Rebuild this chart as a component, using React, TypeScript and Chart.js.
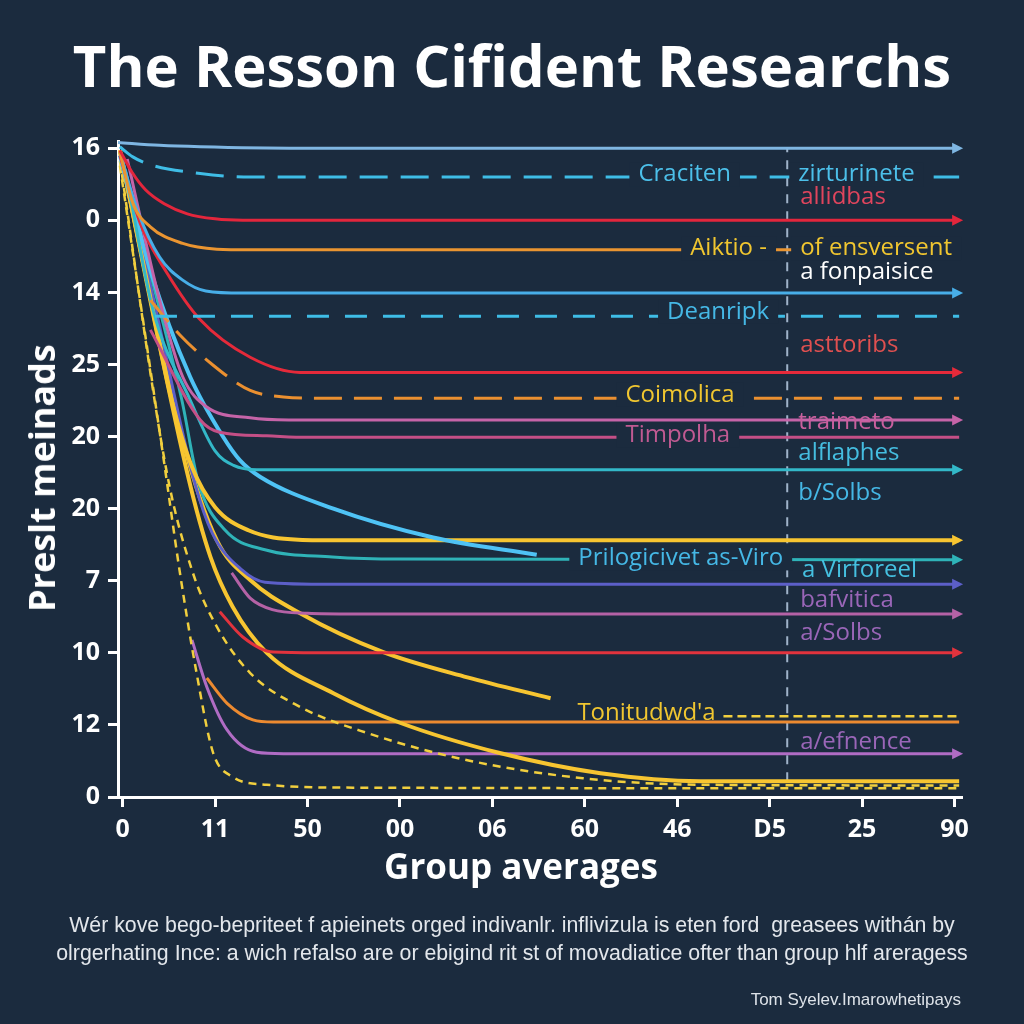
import React, { useEffect, useRef } from 'react';
import { Chart, registerables } from 'chart.js';

Chart.register(...registerables);

const BG = '#1b2b3e';
const FONT = "'Open Sans', 'Noto Sans', sans-serif";

// ---- axes ----
const xTickLabels = ['0', '11', '50', '00', '06', '60', '46', 'D5', '25', '90'];
const yTickLabels = ['0', '12', '10', '7', '20', '20', '25', '14', '0', '16']; // bottom -> top
const yTitle = 'Preslt meinads';
const xTitle = 'Group averages';
const chartTitle = 'The Resson Cifident Researchs';
const captionLines = [
  'Wér kove bego-bepriteet f apieinets orged indivanlr. inflivizula is eten ford  greasees withán by',
  'olrgerhating Ince: a wich refalso are or ebigind rit st of movadiatice ofter than group hlf areragess',
];
const footer = 'Tom Syelev.Imarowhetipays';

// ---- series values: [x, y] pairs ----
const sSkyTop = [[-0.05, 9.08], [0.4, 9.04], [0.84, 9.02], [1.92, 9.0], [9.05, 9.0]];
const sCyanDash1 = [[-0.03, 9.02], [0.11, 8.88], [0.3, 8.77], [0.84, 8.65], [1.38, 8.6], [9.05, 8.6]];
const sRed1 = [[-0.03, 8.97], [0.1, 8.67], [0.25, 8.42], [0.45, 8.23], [0.7, 8.09], [1.0, 8.02], [1.3, 8.0], [9.05, 8.0]];
const sOrange1 = [[-0.03, 8.95], [0.11, 8.24], [0.3, 7.91], [0.65, 7.68], [1.02, 7.6], [1.38, 7.59], [9.05, 7.59]];
const sBlue1 = [[-0.03, 8.95], [0.16, 8.14], [0.4, 7.49], [0.65, 7.17], [0.9, 7.02], [1.3, 6.99], [9.05, 6.99]];
const sCyanDash2 = [[0.35, 6.67], [9.05, 6.67]];
const sRed2 = [[-0.03, 8.9], [0.19, 7.96], [0.48, 7.27], [0.84, 6.62], [1.38, 6.1], [1.92, 5.89], [9.05, 5.89]];
const sOrangeDash2 = [[0.3, 6.89], [0.62, 6.41], [0.95, 6.02], [1.38, 5.64], [1.74, 5.55], [2.2, 5.53], [9.05, 5.53]];
const sPink1 = [[0.05, 8.85], [0.4, 6.89], [0.65, 5.83], [0.91, 5.41], [1.38, 5.26], [1.8, 5.23], [9.05, 5.23]];
const sPink2 = [[0.3, 6.48], [0.84, 5.23], [1.05, 5.06], [1.56, 5.01], [2.0, 4.99], [9.05, 4.99]];
const sTeal1 = [[0.03, 8.7], [0.33, 6.75], [0.73, 5.51], [1.0, 4.8], [1.2, 4.6], [1.45, 4.54], [9.05, 4.54]];
const sSkyCurve = [[-0.03, 8.9], [0.3, 7.31], [0.73, 5.83], [1.09, 4.99], [1.27, 4.67], [1.49, 4.44], [2.28, 4.0], [3.36, 3.6], [4.48, 3.36]];
const sYellow1 = [[-0.03, 8.97], [0.25, 7.24], [0.53, 5.51], [0.75, 4.58], [1.0, 4.02], [1.36, 3.7], [1.9, 3.57], [2.4, 3.56], [9.05, 3.56]];
const sTeal2 = [[0.0, 8.83], [0.3, 7.27], [0.64, 5.51], [0.82, 4.36], [1.11, 3.7], [1.54, 3.43], [2.27, 3.33], [3.0, 3.3], [9.05, 3.29]];
const sIndigo = [[0.0, 8.83], [0.35, 6.82], [0.78, 4.36], [0.97, 3.66], [1.29, 3.15], [1.54, 2.98], [2.27, 2.95], [9.05, 2.95]];
const sMauve = [[1.18, 3.11], [1.38, 2.76], [1.62, 2.6], [2.0, 2.55], [2.5, 2.54], [9.05, 2.54]];
const sRed3 = [[1.05, 2.57], [1.3, 2.22], [1.63, 2.01], [2.1, 2.0], [9.05, 2.0]];
const sYellow2 = [[-0.03, 8.97], [0.65, 4.95], [1.02, 3.56], [1.38, 3.01], [1.92, 2.55], [2.82, 2.01], [3.73, 1.66], [4.63, 1.37]];
const sYellow3 = [[-0.03, 8.97], [0.7, 4.49], [0.95, 3.33], [1.19, 2.64], [1.56, 2.0], [2.28, 1.44], [3.0, 1.03], [4.08, 0.61], [5.17, 0.33], [6.25, 0.22], [9.05, 0.22]];
const sYellowDash1 = [[-0.03, 8.83], [0.48, 4.49], [0.76, 3.11], [1.02, 2.36], [1.38, 1.72], [1.92, 1.25], [2.64, 0.89], [3.73, 0.51], [4.98, 0.26], [6.25, 0.17], [9.05, 0.16]];
const sYellowDash2 = [[-0.03, 8.76], [0.44, 4.72], [0.62, 3.11], [0.8, 1.72], [0.98, 0.61], [1.19, 0.28], [1.56, 0.17], [2.5, 0.13], [9.05, 0.12]];
const sOrange3 = [[0.91, 1.65], [1.13, 1.3], [1.41, 1.07], [1.63, 1.04], [9.05, 1.04]];
const sPurple = [[0.75, 2.18], [0.91, 1.53], [1.13, 0.93], [1.45, 0.62], [1.74, 0.6], [9.05, 0.6]];
const sYellowDash3 = [[6.5, 1.12], [9.05, 1.12]];
const refLine = [[7.19, 0.22], [7.19, 9.0]];

const seriesData = [
  sSkyTop, sCyanDash1, sRed1, sOrange1, sBlue1, sCyanDash2, sRed2, sOrangeDash2, sPink1, sPink2,
  sTeal1, sSkyCurve, sYellow1, sTeal2, sIndigo, sMauve, sRed3, sYellow2, sYellow3, sYellowDash1,
  sYellowDash2, sOrange3, sPurple, sYellowDash3,
];

// ---- series styles ----
const seriesColors = [
  '#7fb6e2', '#3fbde6', '#e3263c', '#ea9531', '#48aee8', '#3fbde6', '#e52a3a', '#eb9030', '#c564a8', '#c44f86',
  '#33b8c8', '#4fc3f5', '#f7c531', '#2fb3b8', '#5c5fc8', '#b562a6', '#e2333d', '#f7c531', '#f7c531', '#f1cf3e',
  '#f1cf3e', '#ec8a30', '#b06cc4', '#f1cf3e',
];
const seriesWidths = [3, 3, 3, 3, 3, 3, 3, 3, 3, 3, 3, 4, 4, 3, 3, 3, 3, 4, 4, 2.5, 2.5, 3, 3, 2.5];
const seriesDashes = [
  [], [28, 13], [], [], [], [22, 16], [], [28, 12], [], [],
  [], [], [], [], [], [], [], [], [], [8, 6],
  [8, 6], [], [], [9, 5],
];
const seriesArrow = [
  true, false, true, false, true, false, true, false, true, false,
  true, false, true, true, true, true, true, false, false, false,
  false, false, true, false,
];

// ---- in-plot labels ----
const labelTexts = ['Craciten', 'zirturinete', 'allidbas', 'Aiktio -', 'of ensversent', 'a fonpaisice', 'Deanripk', 'asttoribs', 'Coimolica', 'traimeto', 'Timpolha', 'alflaphes', 'b/Solbs', 'Prilogicivet as-Viro', 'a Virforeel', 'bafvitica', 'a/Solbs', "Tonitudwd'a", 'a/efnence'];
const labelX = [5.58, 7.31, 7.33, 6.14, 7.33, 7.33, 5.89, 7.33, 5.44, 7.31, 5.44, 7.31, 7.31, 4.93, 7.35, 7.33, 7.33, 4.92, 7.33];
const labelY = [8.64, 8.64, 8.32, 7.61, 7.61, 7.28, 6.73, 6.27, 5.58, 5.2, 5.02, 4.77, 4.22, 3.31, 3.15, 2.73, 2.27, 1.17, 0.76];
const labelColors = ['#4cc0ea', '#4cc0ea', '#e0455d', '#f0c630', '#f0c630', '#ffffff', '#45b8e6', '#e05050', '#f0c630', '#c8609e', '#c05a92', '#45bde0', '#45b8e6', '#45b8e6', '#45c0e0', '#9a66b8', '#9a66b8', '#f0c630', '#9a66b8'];
const labelMasked = [true, true, false, true, true, false, true, false, true, false, true, false, false, true, false, false, false, false, false];

const arrowPlugin = {
  id: 'arrowHeads',
  afterDatasetsDraw(chart: any) {
    const c = chart.ctx;
    seriesArrow.forEach((has, i) => {
      if (!has) return;
      const pts = chart.getDatasetMeta(i).data;
      const p = pts[pts.length - 1];
      if (!p) return;
      c.save();
      c.fillStyle = seriesColors[i];
      c.beginPath();
      c.moveTo(p.x + 4, p.y);
      c.lineTo(p.x - 7, p.y - 5.5);
      c.lineTo(p.x - 7, p.y + 5.5);
      c.closePath();
      c.fill();
      c.restore();
    });
  },
};

const labelPlugin = {
  id: 'plotLabels',
  afterDatasetsDraw(chart: any) {
    const c = chart.ctx;
    const xs = chart.scales.x;
    const ys = chart.scales.y;
    c.save();
    c.font = `24px ${FONT}`;
    c.textBaseline = 'middle';
    c.textAlign = 'left';
    labelTexts.forEach((t, i) => {
      const px = xs.getPixelForValue(labelX[i]);
      const py = ys.getPixelForValue(labelY[i]);
      const w = c.measureText(t).width;
      if (labelMasked[i]) {
        c.fillStyle = BG;
        c.fillRect(px - 9, py - 12, w + 18, 24);
      }
      c.fillStyle = labelColors[i];
      c.fillText(t, px, py);
    });
    c.restore();
  },
};

export default function App() {
  const ref = useRef<HTMLCanvasElement>(null);

  useEffect(() => {
    const canvas = ref.current;
    if (!canvas) return;
    const datasets: any[] = seriesData.map((d, i) => ({
      data: d.map(([x, y]) => ({ x, y })),
      borderColor: seriesColors[i],
      borderWidth: seriesWidths[i],
      borderDash: seriesDashes[i],
      borderCapStyle: 'butt',
      pointRadius: 0,
      fill: false,
      tension: 0.4,
      cubicInterpolationMode: 'monotone',
      clip: false,
    }));
    datasets.push({
      data: refLine.map(([x, y]) => ({ x, y })),
      borderColor: '#9fb3c9',
      borderWidth: 2,
      borderDash: [9, 8],
      pointRadius: 0,
      fill: false,
      tension: 0,
      clip: false,
    });

    const chart = new Chart(canvas, {
      type: 'line',
      data: { datasets },
      options: {
        animation: false,
        responsive: false,
        maintainAspectRatio: false,
        events: [],
        layout: { padding: { top: 141, right: 63, bottom: 127, left: 0 } },
        plugins: { legend: { display: false }, tooltip: { enabled: false }, title: { display: false } },
        scales: {
          x: {
            type: 'linear',
            min: -0.05,
            max: 9.07,
            afterBuildTicks: (s: any) => {
              s.ticks = xTickLabels.map((_, i) => ({ value: i }));
            },
            afterFit: (s: any) => {
              s.height = 100;
            },
            ticks: {
              color: '#ffffff',
              font: { family: FONT, size: 25, weight: 'bold' },
              padding: 8,
              autoSkip: false,
              maxRotation: 0,
              callback: (v: any) => xTickLabels[Math.round(Number(v))] ?? '',
            },
            grid: { display: true, drawOnChartArea: false, drawTicks: true, tickLength: 10, color: '#ffffff', lineWidth: 3 },
            border: { display: true, color: '#ffffff', width: 3 },
            title: { display: false },
          },
          y: {
            type: 'linear',
            min: 0,
            max: 9.1,
            afterBuildTicks: (s: any) => {
              s.ticks = yTickLabels.map((_, i) => ({ value: i }));
            },
            afterFit: (s: any) => {
              s.width = 118;
            },
            ticks: {
              color: '#ffffff',
              font: { family: FONT, size: 25, weight: 'bold' },
              padding: 8,
              autoSkip: false,
              callback: (v: any) => yTickLabels[Math.round(Number(v))] ?? '',
            },
            grid: { display: true, drawOnChartArea: false, drawTicks: true, tickLength: 10, color: '#ffffff', lineWidth: 3 },
            border: { display: true, color: '#ffffff', width: 3 },
            title: { display: false },
          },
        },
      } as any,
      plugins: [arrowPlugin, labelPlugin],
    });
    return () => chart.destroy();
  }, []);

  return (
    <div style={{ position: 'fixed', left: 0, top: 0, width: 1024, height: 1024, background: BG, overflow: 'hidden' }}>
      <canvas ref={ref} width={1024} height={1024} style={{ position: 'absolute', left: 0, top: 0, width: 1024, height: 1024, display: 'block' }} />
      <div style={{ position: 'absolute', left: 0, top: 30, width: 1024, height: 70, lineHeight: '70px', textAlign: 'center', color: '#ffffff', fontFamily: FONT, fontWeight: 700, fontSize: 58, whiteSpace: 'nowrap' }}>
        {chartTitle}
      </div>
      <div style={{ position: 'absolute', left: 42, top: 478, transform: 'translate(-50%, -50%) rotate(-90deg)', lineHeight: '44px', color: '#ffffff', fontFamily: FONT, fontWeight: 700, fontSize: 36, whiteSpace: 'nowrap' }}>
        {yTitle}
      </div>
      <div style={{ position: 'absolute', left: 521, top: 866, transform: 'translate(-50%, -50%)', lineHeight: '44px', color: '#ffffff', fontFamily: FONT, fontWeight: 700, fontSize: 35, whiteSpace: 'nowrap' }}>
        {xTitle}
      </div>
      <div style={{ position: 'absolute', left: 0, top: 911, width: 1024, textAlign: 'center', color: '#e3e7ec', fontFamily: "'Liberation Sans', Arial, sans-serif", fontSize: 21.3, lineHeight: '28px', whiteSpace: 'pre' }}>
        {captionLines.map((l, i) => (
          <div key={i}>{l}</div>
        ))}
      </div>
      <div style={{ position: 'absolute', right: 63, top: 990, lineHeight: '20px', color: '#dde2e8', fontFamily: "'Liberation Sans', Arial, sans-serif", fontSize: 17, whiteSpace: 'nowrap' }}>
        {footer}
      </div>
    </div>
  );
}
